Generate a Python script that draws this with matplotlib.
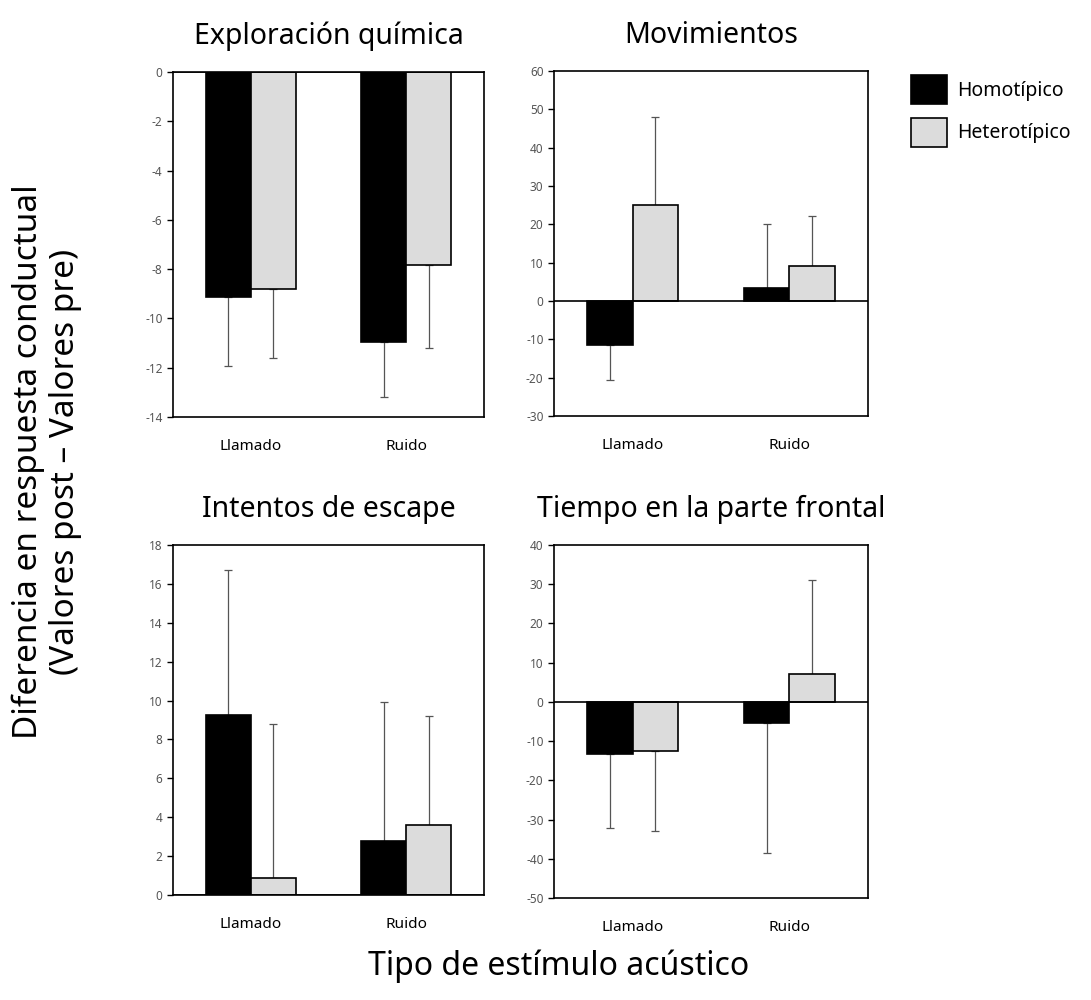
import numpy as np
import matplotlib.pyplot as plt
from matplotlib.patches import Patch

plt.rcParams['font.family'] = ['Noto Sans', 'DejaVu Sans']
plt.rcParams['axes.unicode_minus'] = False

categorias = ["Llamado", "Ruido"]
grupos = ["Homotípico", "Heterotípico"]
colores = ["#000000", "#dcdcdc"]

# medias y extremos de las barras de error (Homotípico, Heterotípico) por categoría
explo_media = [[-9.15, -10.95], [-8.8, -7.85]]
explo_error = [[-11.95, -13.2], [-11.6, -11.2]]

mov_media = [[-11.5, 3.5], [25.0, 9.0]]
mov_error = [[-20.7, 20.0], [48.0, 22.2]]

escape_media = [[9.25, 2.8], [0.9, 3.6]]
escape_error = [[16.7, 9.95], [8.8, 9.2]]

frontal_media = [[-13.4, -5.5], [-12.5, 7.0]]
frontal_error = [[-32.2, -38.5], [-33.0, 31.2]]

paneles = [
    ("Exploración química", explo_media, explo_error, (-14, 0), 2),
    ("Movimientos", mov_media, mov_error, (-30, 60), 10),
    ("Intentos de escape", escape_media, escape_error, (0, 18), 2),
    ("Tiempo en la parte frontal", frontal_media, frontal_error, (-50, 40), 10),
]

fig = plt.figure(figsize=(10.91, 10), dpi=100)
W, H = 1091, 1000
cajas = [(173, 72, 484, 417), (554, 71, 868, 416),
         (173, 545, 484, 895), (554, 545, 868, 898)]

x = np.array([0.5, 1.5])
ancho = 0.29

for (titulo, medias, errores, lims, paso), (x0, y0, x1, y1) in zip(paneles, cajas):
    ax = fig.add_axes([x0 / W, 1 - y1 / H, (x1 - x0) / W, (y1 - y0) / H])
    for i in range(2):
        pos = x - ancho / 2 + i * ancho
        m = np.array(medias[i])
        e = np.array(errores[i])
        ax.bar(pos, m, width=ancho, color=colores[i], edgecolor="black",
               linewidth=1.2, zorder=2)
        # barra de error sólo en la dirección de la media
        abajo = np.where(e < m, m - e, 0)
        arriba = np.where(e > m, e - m, 0)
        ax.errorbar(pos, m, yerr=[abajo, arriba], fmt="none", ecolor="#555555",
                    elinewidth=0.9, capsize=3, capthick=0.9, zorder=1)
    ax.axhline(0, color="black", linewidth=1.2, zorder=3)
    ax.set_xlim(0, 2)
    ax.set_ylim(*lims)
    ax.set_yticks(np.arange(lims[0], lims[1] + paso / 2, paso))
    ax.set_xticks(x)
    ax.set_xticklabels(categorias, fontsize=11)
    ax.tick_params(axis="x", length=0, pad=16)
    ax.tick_params(axis="y", labelsize=8.5, labelcolor="#555555", length=4,
                   width=1, direction="out")
    for s in ax.spines.values():
        s.set_linewidth(1.2)
    ax.set_title(titulo, fontsize=20.5, pad=20)

fig.text(47 / W, 1 - 462 / H,
         "Diferencia en respuesta conductual\n(Valores post – Valores pre)",
         rotation=90, ha="center", va="center", fontsize=24, linespacing=1.15)
fig.text(559 / W, 1 - 966 / H, "Tipo de estímulo acústico",
         ha="center", va="center", fontsize=23)

manijas = [Patch(facecolor=c, edgecolor="black", linewidth=1.2) for c in colores]
fig.legend(manijas, grupos, loc="upper left", bbox_to_anchor=(893 / W, 1 - 58 / H),
           frameon=False, fontsize=14, handlelength=1.9, handleheight=1.9,
           labelspacing=0.7, handletextpad=0.5)

fig.savefig("out.png", dpi=100, facecolor="white")
